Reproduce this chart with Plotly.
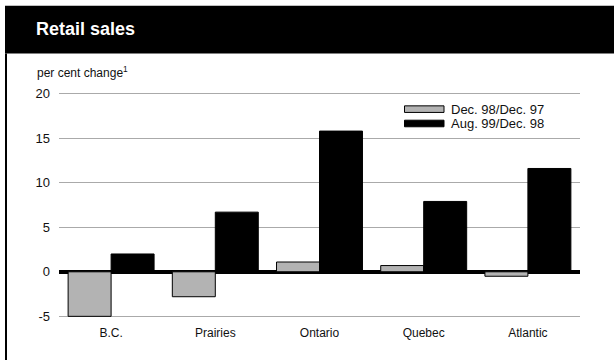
import plotly.graph_objects as go

# Retail sales, per cent change by region
regions = ["B.C.", "Prairies", "Ontario", "Quebec", "Atlantic"]
dec98_dec97 = [-5.0, -2.8, 1.1, 0.7, -0.5]
aug99_dec98 = [2.0, 6.7, 15.8, 7.9, 11.6]
series_names = ["Dec. 98/Dec. 97", "Aug. 99/Dec. 98"]
y_ticks = [-5, 0, 5, 10, 15, 20]
y_tick_labels = ["-5", "0", "5", "10", "15", "20"]

W_FIG, H_FIG = 614, 360
L, R, T, B = 59, 34, 90.6, 40.6
PW, PH = W_FIG - L - R, H_FIG - T - B

FONT = "Liberation Sans, Arial, sans-serif"
GRAY = "#b3b3b3"


def px_x(px):
    return (px - L) / PW


def px_y(py):
    return (T + PH - py) / PH


fig = go.Figure()
fig.add_trace(go.Bar(x=regions, y=dec98_dec97, name=series_names[0],
                     marker=dict(color=GRAY, line=dict(color="black", width=1))))
fig.add_trace(go.Bar(x=regions, y=aug99_dec98, name=series_names[1],
                     marker=dict(color="black", line=dict(color="black", width=1))))

shapes = [
    # black header band
    dict(type="rect", xref="paper", yref="paper", x0=px_x(5), x1=px_x(615),
         y0=px_y(53), y1=px_y(5), fillcolor="black", line=dict(width=0), layer="below"),
    # left frame rule
    dict(type="line", xref="paper", yref="paper", x0=px_x(6), x1=px_x(6),
         y0=px_y(53), y1=px_y(361), line=dict(color="black", width=2)),
]

# legend swatches
legend_rows = [(108.8, GRAY), (123.2, "black")]
annotations = []
for (cy, color), label in zip(legend_rows, series_names):
    shapes.append(dict(type="rect", xref="paper", yref="paper",
                       x0=px_x(404.5), x1=px_x(444), y0=px_y(cy + 3.3), y1=px_y(cy - 3.3),
                       fillcolor=color, line=dict(color="black", width=1)))
    annotations.append(dict(text=label, xref="paper", yref="paper", x=px_x(449), y=px_y(cy),
                            xanchor="left", yanchor="middle", showarrow=False,
                            font=dict(family=FONT, size=13, color="#111")))

annotations += [
    dict(text="<b>Retail sales</b>", xref="paper", yref="paper", x=px_x(34), y=px_y(28.5),
         xanchor="left", yanchor="middle", showarrow=False,
         font=dict(family=FONT, size=18, color="white")),
    dict(text="per cent change<sup>1</sup>", xref="paper", yref="paper", x=px_x(34.5),
         y=px_y(72), xanchor="left", yanchor="middle", showarrow=False,
         font=dict(family=FONT, size=12, color="#111")),
]

fig.update_layout(
    width=W_FIG, height=H_FIG,
    margin=dict(l=L, r=R, t=T, b=B, pad=0),
    paper_bgcolor="white", plot_bgcolor="white",
    barmode="group", bargap=0.175, bargroupgap=0,
    showlegend=False,
    shapes=shapes, annotations=annotations,
    font=dict(family=FONT, color="#111"),
)
fig.update_xaxes(showgrid=False, showline=False, ticks="",
                 tickfont=dict(family=FONT, size=12, color="#111"),
                 ticklabelstandoff=5)
fig.update_yaxes(range=[-5.3, 20.3], tickvals=y_ticks, ticktext=y_tick_labels,
                 showgrid=True, gridcolor="#aaaaaa", gridwidth=1,
                 zeroline=True, zerolinecolor="black", zerolinewidth=4,
                 showline=False, ticks="", ticklabelstandoff=8,
                 tickfont=dict(family=FONT, size=13, color="#111"))

fig.write_html("out.html")
